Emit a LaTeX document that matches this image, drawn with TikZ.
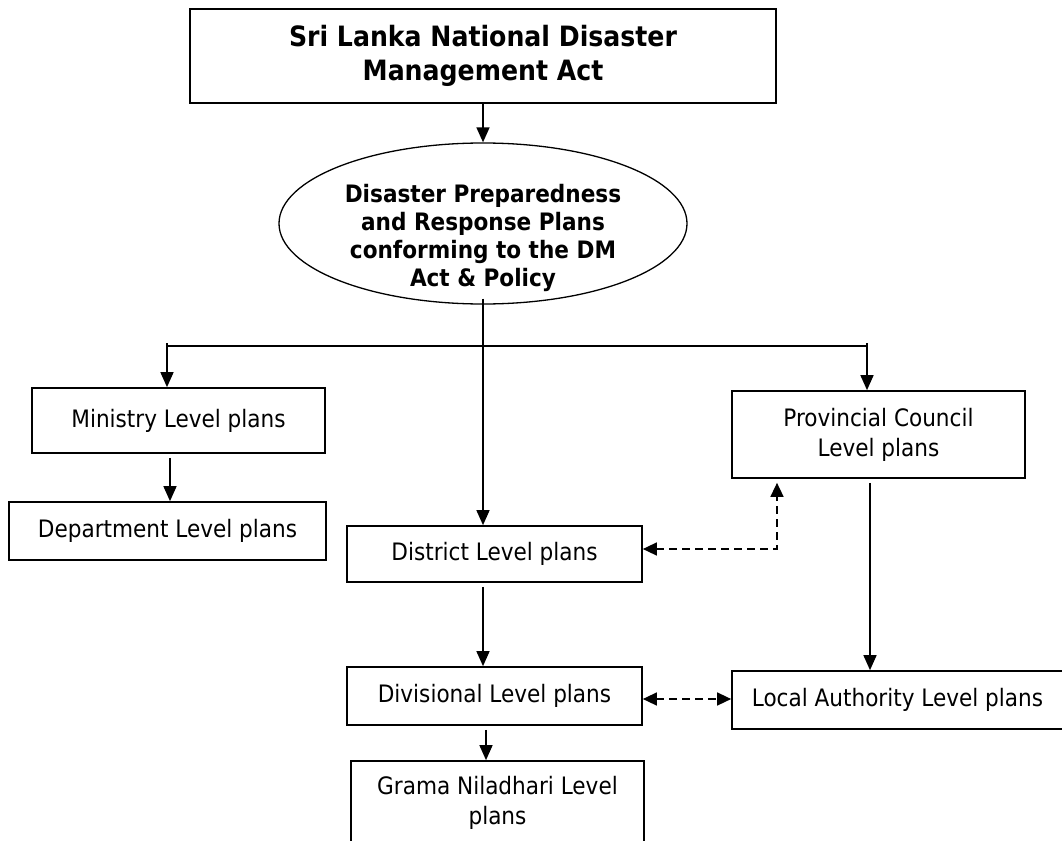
\documentclass[tikz,border=0pt]{standalone}
\usepackage{fontspec}
\setmainfont{DejaVu Sans Condensed}
\usetikzlibrary{shapes.geometric,arrows.meta}
\tikzset{
  plan/.style={draw, line width=1.7pt, inner sep=0pt, align=center,
    font=\fontsize{24}{30}\selectfont},
  conn/.style={line width=1.5pt, -{Triangle[length=15pt,width=13pt]}},
  link/.style={line width=1.5pt, dash pattern=on 8pt off 5pt,
    {Triangle[length=14pt,width=13pt]}-{Triangle[length=14pt,width=13pt]}}
}
\begin{document}
\begin{tikzpicture}[x=1pt, y=-1pt]
  \path[use as bounding box, fill=white] (0,0) rectangle (1062,840);

  %Top
  \node[plan, minimum width=586pt, minimum height=94pt,
    font=\fontsize{28}{34}\selectfont\bfseries] (act) at (483,56)
    {Sri Lanka National Disaster\\Management Act};
  \node[draw, ellipse, line width=1.3pt, minimum width=408pt,
    minimum height=161pt] (plans) at (483,223.5) {};
  \node[align=center, font=\fontsize{24}{28}\selectfont\bfseries]
    (planstext) at (483,238)
    {Disaster Preparedness\\and Response Plans\\conforming to the DM\\Act \& Policy};

  %Levels
  \node[plan, minimum width=293pt, minimum height=65pt] (ministry) at (178.5,420.5) {Ministry Level plans};
  \node[plan, minimum width=317pt, minimum height=58pt] (department) at (167.5,531) {Department Level plans};
  \node[plan, minimum width=295pt, minimum height=56pt] (district) at (494.5,554) {District Level plans};
  \node[plan, minimum width=293pt, minimum height=87pt] (provincial) at (878.5,434.5) {Provincial Council\\Level plans};
  \node[plan, minimum width=295pt, minimum height=58pt] (divisional) at (494.5,696) {Divisional Level plans};
  \node[plan, minimum width=331pt, minimum height=58pt] (local) at (897.5,700) {Local Authority Level plans};
  \node[plan, minimum width=293pt, minimum height=84pt] (grama) at (497.5,803) {Grama Niladhari Level\\plans};

  %Connectors
  \coordinate (leftend) at (167,346);
  \coordinate (rightend) at (867,346);
  \coordinate (corner) at (777,549);
  \draw[conn] (act.south) -- (plans.north);
  \draw[line width=1.5pt] (leftend) -- (rightend);
  \draw[conn] ([yshift=3pt]leftend) -- (leftend |- ministry.north);
  \draw[conn] ([yshift=3pt]rightend) -- (rightend |- provincial.north);
  \draw[conn] ([yshift=6pt]plans.south) -- (plans.south |- district.north);
  \draw[conn, shorten <=4pt] ([xshift=-8.5pt]ministry.south) -- ([xshift=-8.5pt]ministry.south |- department.north);
  \draw[conn, shorten <=4pt] ([xshift=-11.5pt]district.south) -- ([xshift=-11.5pt]district.south |- divisional.north);
  \draw[conn, shorten <=4pt] ([xshift=-8.5pt]divisional.south) -- ([xshift=-8.5pt]divisional.south |- grama.north);
  \draw[conn, shorten <=4pt] ([xshift=-8.5pt]provincial.south) -- ([xshift=-8.5pt]provincial.south |- local.north);
  \draw[link, shorten >=4pt] (corner -| district.east) -- (corner) -- (corner |- provincial.south);
  \draw[link] ([yshift=-3pt]divisional.east) -- ([yshift=-3pt]divisional.east -| local.west);
\end{tikzpicture}
\end{document}
